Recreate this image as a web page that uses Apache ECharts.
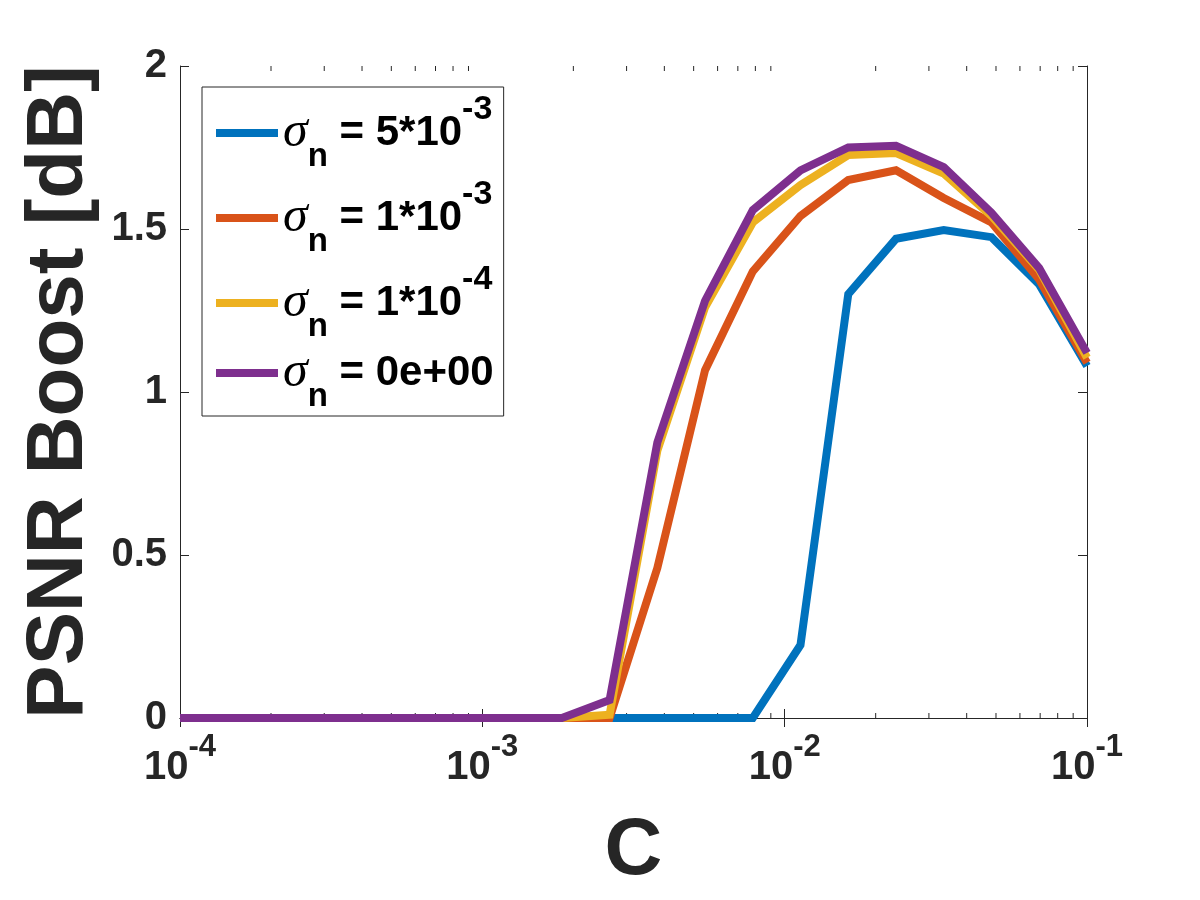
<!DOCTYPE html>
<html lang="en">
<head>
<meta charset="UTF-8">
<title>PSNR Boost vs C</title>
<script src="https://cdn.jsdelivr.net/npm/echarts@6/dist/echarts.min.js"></script>
<style>
  html, body { margin: 0; padding: 0; background: #fff; }
  #chart { width: 1200px; height: 900px; }
</style>
</head>
<body>
<div id="chart"></div>
<script>
// C values (20 log-spaced points, 1e-4 .. 1e-1)
const cValues = [1e-4, 1.438e-4, 2.069e-4, 2.976e-4, 4.281e-4, 6.158e-4, 8.857e-4,
  1.274e-3, 1.833e-3, 2.636e-3, 3.792e-3, 5.454e-3, 7.845e-3,
  1.128e-2, 1.623e-2, 2.335e-2, 3.358e-2, 4.830e-2, 6.948e-2, 1e-1];

// PSNR boost [dB] per noise level
const boostSigma5e3 = [0, 0, 0, 0, 0, 0, 0, 0, 0, 0, 0, 0, 0,
  0.224, 1.30, 1.47, 1.497, 1.475, 1.33, 1.08];
const boostSigma1e3 = [0, 0, 0, 0, 0, 0, 0, 0, 0, 0,
  0.46, 1.067, 1.37, 1.54, 1.65, 1.68, 1.595, 1.52, 1.345, 1.09];
const boostSigma1e4 = [0, 0, 0, 0, 0, 0, 0, 0, 0, 0.01,
  0.82, 1.26, 1.52, 1.635, 1.727, 1.733, 1.67, 1.54, 1.375, 1.105];
const boostSigma0 = [0, 0, 0, 0, 0, 0, 0, 0, 0, 0.055,
  0.845, 1.28, 1.558, 1.68, 1.75, 1.755, 1.69, 1.55, 1.38, 1.12];

const seriesNames = ['σn = 5*10^-3', 'σn = 1*10^-3', 'σn = 1*10^-4', 'σn = 0e+00'];
const seriesColors = ['#0072BD', '#D95319', '#EDB120', '#7E2F8E'];
const seriesData = [boostSigma5e3, boostSigma1e3, boostSigma1e4, boostSigma0];

// minor tick positions on the log axis
const decades = [1e-4, 1e-3, 1e-2];
const minorTickValues = [];
decades.forEach(d => {
  for (let m = 2; m <= 9; m++) minorTickValues.push(m * d);
});

const textColor = '#262626';
const font = 'Liberation Sans, Arial, sans-serif';

const chart = echarts.init(document.getElementById('chart'));

const lineSeries = seriesNames.map((name, i) => ({
  name: name,
  type: 'line',
  data: cValues.map((c, j) => [c, seriesData[i][j]]),
  symbol: 'none',
  lineStyle: { width: 8, color: seriesColors[i], join: 'miter' },
  itemStyle: { color: seriesColors[i] },
  z: 3
}));

const minorTicks = {
  type: 'custom',
  silent: true,
  data: minorTickValues.map(v => [v, 0]),
  renderItem: (params, api) => {
    const v = api.value(0);
    const b = api.coord([v, 0]);
    const t = api.coord([v, 2]);
    const st = { stroke: textColor, lineWidth: 1 };
    return {
      type: 'group',
      children: [
        { type: 'line', shape: { x1: b[0], y1: b[1], x2: b[0], y2: b[1] - 5 }, style: st },
        { type: 'line', shape: { x1: t[0], y1: t[1], x2: t[0], y2: t[1] + 5 }, style: st }
      ]
    };
  },
  z: 2
};

const axisLineStyle = { show: true, lineStyle: { color: textColor, width: 1 } };

chart.setOption({
  animation: false,
  backgroundColor: '#fff',
  grid: { left: 180, right: 113, top: 66, bottom: 182 },
  legend: {
    data: seriesNames,
    orient: 'vertical',
    left: 202,
    top: 87,
    icon: 'rect',
    itemWidth: 62,
    itemHeight: 8,
    itemGap: 5,
    padding: [6, 10, 3, 14],
    borderColor: textColor,
    borderWidth: 1,
    backgroundColor: '#fff',
    formatter: name => {
      const m = name.match(/^σn = ([^^]+)(?:\^(.*))?$/);
      return '{sig|σ}{sub|n}{t| = ' + m[1] + '}' + (m[2] ? '{sup|' + m[2] + '}' : '');
    },
    textStyle: {
      color: '#000',
      fontFamily: font,
      fontWeight: 'bold',
      fontSize: 42,
      rich: {
        sig: { fontFamily: 'Liberation Serif, serif', fontStyle: 'italic', fontWeight: 'normal', fontSize: 50, lineHeight: 80, color: '#000' },
        sub: { fontFamily: font, fontWeight: 'bold', fontSize: 33, lineHeight: 1, verticalAlign: 'bottom', color: '#000' },
        t: { fontFamily: font, fontWeight: 'bold', fontSize: 42, lineHeight: 80, color: '#000' },
        sup: { fontFamily: font, fontWeight: 'bold', fontSize: 34, lineHeight: 46, verticalAlign: 'top', color: '#000' }
      }
    }
  },
  xAxis: [{
    type: 'log',
    logBase: 10,
    min: 1e-4,
    max: 1e-1,
    position: 'bottom',
    name: 'C',
    nameLocation: 'middle',
    nameGap: 94,
    nameTextStyle: { fontFamily: font, fontWeight: 'bold', fontSize: 80, color: textColor },
    axisLine: axisLineStyle,
    axisTick: { show: true, inside: true, length: 9, lineStyle: { color: textColor } },
    splitLine: { show: false },
    axisLabel: {
      margin: 14,
      formatter: v => '{b|10}{s|' + Math.round(Math.log10(v)) + '}',
      rich: {
        b: { fontFamily: font, fontWeight: 'bold', fontSize: 40, lineHeight: 56, verticalAlign: 'bottom', color: textColor },
        s: { fontFamily: font, fontWeight: 'bold', fontSize: 31, lineHeight: 30, verticalAlign: 'top', color: textColor }
      }
    }
  }, {
    type: 'log',
    logBase: 10,
    min: 1e-4,
    max: 1e-1,
    position: 'top',
    axisLine: axisLineStyle,
    axisTick: { show: true, inside: true, length: 9, lineStyle: { color: textColor } },
    axisLabel: { show: false },
    splitLine: { show: false }
  }],
  yAxis: [{
    type: 'value',
    min: 0,
    max: 2,
    interval: 0.5,
    name: 'PSNR Boost [dB]',
    nameLocation: 'middle',
    nameGap: 80,
    nameTextStyle: { fontFamily: font, fontWeight: 'bold', fontSize: 80, color: textColor },
    axisLine: axisLineStyle,
    axisTick: { show: true, inside: true, length: 9, lineStyle: { color: textColor } },
    splitLine: { show: false },
    axisLabel: { margin: 13, fontFamily: font, fontWeight: 'bold', fontSize: 40, color: textColor }
  }, {
    type: 'value',
    min: 0,
    max: 2,
    interval: 0.5,
    position: 'right',
    axisLine: axisLineStyle,
    axisTick: { show: true, inside: true, length: 9, lineStyle: { color: textColor } },
    axisLabel: { show: false },
    splitLine: { show: false }
  }],
  series: lineSeries.concat([minorTicks])
});
</script>
</body>
</html>
